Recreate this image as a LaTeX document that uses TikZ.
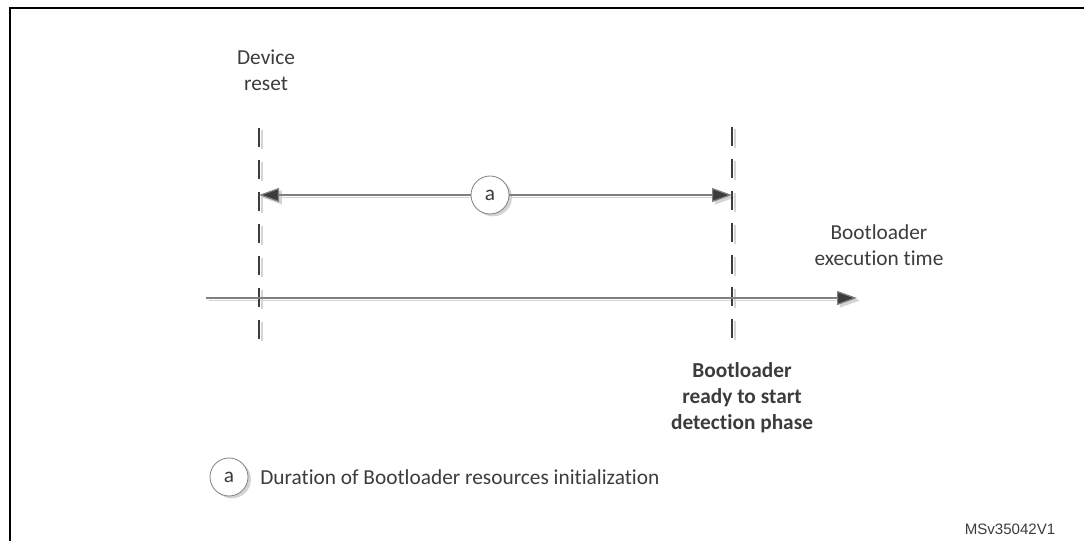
\documentclass[tikz,border=0pt]{standalone}
\usepackage{fontspec}
\setmainfont[Ligatures={NoCommon}]{Carlito}
\newfontfamily\arialfont{Liberation Sans}
\usetikzlibrary{arrows.meta}
\definecolor{dk}{HTML}{3C3C3C}
\definecolor{ln}{HTML}{808080}
\definecolor{sh}{HTML}{D4D4D4}
\begin{document}
\begin{tikzpicture}[x=0.75pt,y=-0.75pt,
  txt/.style={font=\fontsize{16}{19.5}\selectfont, text=dk, align=center, inner sep=0pt},
  vline/.style={draw=dk, line width=2.1pt, dash pattern=on 14.25pt off 9.75pt},
  vshadow/.style={draw=sh, line width=2.1pt, dash pattern=on 14.25pt off 9.75pt},
  hline/.style={draw=ln, line width=0.9pt},
  hshadow/.style={draw=sh, line width=1.2pt},
  tip/.style={-{Triangle[length=15pt,width=10.5pt,fill=dk]}},
  shtip/.style={-{Triangle[length=15pt,width=10.5pt,fill=sh]}},
  circ/.style={circle, draw=ln, fill=white, line width=0.6pt, minimum size=28.5pt, inner sep=0pt, font=\fontsize{16}{19}\selectfont, text=dk},
  circsh/.style={circle, fill=sh, minimum size=28.5pt, inner sep=0pt}
]
\useasboundingbox (0,0) rectangle (1084,541);
% frame
\draw[line width=1.6pt] (10,541) -- (10,8) -- (1084,8);

% coordinates
\coordinate (L1) at (259,128);
\coordinate (L2) at (259,340);
\coordinate (R1) at (732,127);
\coordinate (R2) at (732,340);
\coordinate (T0) at (206,298);
\coordinate (T1) at (857,298);
\coordinate (La) at (259,195);
\coordinate (Ra) at (732,195);

% shadows
\begin{scope}[transform canvas={shift={(2.2pt,-1.8pt)}}]
  \draw[vshadow] (L1) -- (L2);
  \draw[vshadow] (R1) -- (R2);
  \draw[hshadow, shtip] (490,195) -- (La);
  \draw[hshadow, shtip] (490,195) -- (Ra);
  \draw[hshadow, shtip] (T0) -- (T1);
  \node[circsh] at (490,195) {};
  \node[circsh] at (229,477) {};
\end{scope}

% vertical dashed markers
\draw[vline] (L1) -- (L2);
\draw[vline] (R1) -- (R2);

% time axis
\draw[hline, tip] (T0) -- (T1);

% duration a
\node[circ] (ca) at (490,195) {a};
\draw[hline, tip] (ca) -- (La);
\draw[hline, tip] (ca) -- (Ra);

% labels
\node[txt] (reset) at (266,70) {Device\\reset};
\node[txt] (exec) at (879,245) {Bootloader\\execution time};
\node[txt, font=\fontsize{16}{19.5}\selectfont\bfseries] (ready) at (742,398) {Bootloader\\ready to start\\detection phase};

% legend
\node[circ] (leg) at (229,477) {a};
\node[txt, anchor=west] (legtxt) at (260,477) {Duration of Bootloader resources initialization};

% reference
\node[txt, font=\arialfont\fontsize{11.3}{13}\selectfont] (ref) at (1010,529) {MSv35042V1};
\end{tikzpicture}
\end{document}
